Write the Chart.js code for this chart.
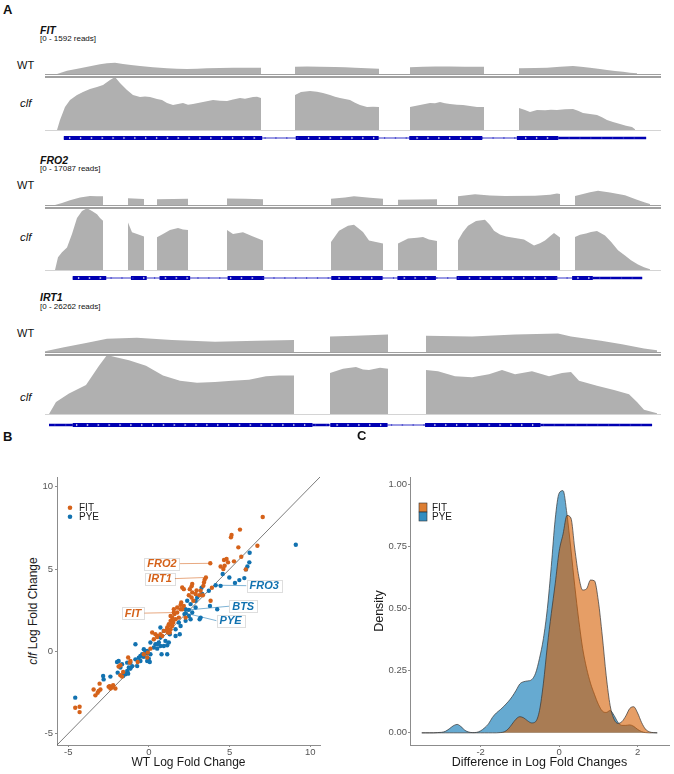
<!DOCTYPE html>
<html>
<head>
<meta charset="utf-8">
<title>FIT / PYE targets in clf</title>
<script src="https://cdn.jsdelivr.net/npm/chart.js@4.4.1/dist/chart.umd.min.js"></script>
<style>
  html, body { margin: 0; padding: 0; background: #fff; }
  #fig { position: relative; width: 674px; height: 774px; overflow: hidden;
         font-family: "Liberation Sans", Arial, Helvetica, sans-serif; color: #111; }
  #fig > * { position: absolute; }
  .lbl { white-space: nowrap; line-height: 1; }
  .mid { transform: translateY(-50%); }
  .panel { font-weight: bold; font-size: 13px; }
  .gene { font-weight: bold; font-style: italic; font-size: 10.5px; }
  .reads { font-size: 8px; }
  .wt { font-size: 11px; }
  .clf { font-style: italic; font-size: 11.5px; }
  .axt { font-size: 12px; color: #1a1a1a; transform: translate(-50%, -50%) rotate(-90deg); }
  .rule2 { height: 1px; border-top: 1px solid #a0a0a0; border-bottom: 2px solid #a0a0a0; }
  .rule1 { height: 1px; background: #d4d4d4; }
</style>
</head>
<body>
<div id="fig"></div>
<script>
// ---------- panel A: IGV coverage, [bin, reads] per covered block ----------
const WIN = 616; // bins across each IGV window

const fitRange = 1592;
const fitWT = [
  [[12,0],[22,175],[35,300],[45,410],[55,515],[62,570],[70,600],[78,530],[86,480],[95,425],[108,360],[122,300],[132,280],[142,265],[152,285],[162,300],[175,320],[188,335],[200,330],[216,335]],
  [[250,390],[262,400],[275,390],[290,370],[300,360],[310,335],[322,300],[334,280]],
  [[365,360],[378,385],[390,400],[405,395],[420,390],[430,385],[439,380]],
  [[474,300],[490,320],[502,335],[515,380],[528,425],[536,390],[545,335],[555,270],[562,210],[570,160],[578,120],[585,70],[592,35]]
];
const fitClf = [
  [[12,0],[15,300],[20,690],[25,900],[32,1050],[38,1140],[45,1230],[52,1290],[58,1350],[65,1500],[70,1592],[75,1410],[82,1200],[88,1050],[95,990],[100,1010],[105,990],[112,930],[117,900],[122,810],[128,750],[138,810],[143,760],[148,780],[158,840],[168,900],[175,880],[182,870],[188,915],[195,960],[200,940],[208,990],[212,1000],[216,960]],
  [[250,1050],[256,1140],[265,1170],[272,1150],[278,1110],[285,1050],[290,1000],[295,960],[300,930],[305,900],[310,820],[315,750],[322,690],[328,700],[334,690]],
  [[365,690],[370,720],[375,750],[380,780],[385,810],[390,800],[395,840],[400,800],[405,780],[412,760],[418,750],[425,720],[432,690],[439,690]],
  [[474,660],[480,600],[485,540],[492,600],[500,590],[506,610],[512,600],[520,620],[528,630],[533,580],[538,510],[545,480],[552,450],[557,380],[562,300],[568,240],[575,180],[581,130],[587,90],[590,20]]
];
const fitExons = [[15,216],[250,334],[365,439],[474,516]];
const fitUtr = [[516,605]];

const fro2Range = 17087;
const fro2WT = [
  [[10,0],[17,1140],[25,2560],[35,4160],[45,4900],[52,4850],[58,4790]],
  [[83,3700],[99,3300]],
  [[112,3130],[128,3250],[143,3420]],
  [[182,3590],[200,3400],[218,3130]],
  [[286,3420],[300,4200],[309,4790],[325,4000],[338,3420]],
  [[353,2850],[372,3000],[392,3130]],
  [[413,4790],[430,5930],[445,5200],[460,4960],[490,5130],[505,5700],[512,6270],[515,6000]],
  [[530,4960],[545,7000],[553,7870],[565,6840],[580,5360],[592,2850],[600,1400],[605,570]]
];
const fro2Clf = [
  [[10,0],[13,3520],[17,4880],[22,6230],[27,9950],[32,14360],[37,16260],[42,17000],[47,16260],[52,15360],[55,14360],[58,13550]],
  [[83,13100],[87,10380],[92,9950],[99,9210]],
  [[112,9030],[118,9950],[125,11030],[133,11570],[138,11190],[143,11030]],
  [[182,11030],[188,9950],[198,10380],[208,9210],[218,8130]],
  [[286,7720],[294,10840],[303,12200],[309,12470],[318,10460],[324,8130],[331,7700],[338,7320]],
  [[353,7320],[363,8670],[372,8900],[378,9080],[384,8400],[392,7990]],
  [[413,8130],[418,10500],[423,12200],[431,13470],[440,13820],[445,12400],[449,10840],[455,9800],[461,9210],[470,8800],[479,8400],[489,6780],[495,7400],[500,8130],[505,9300],[509,10190],[515,8940]],
  [[530,9080],[535,9700],[541,10030],[546,10500],[552,10730],[560,9490],[566,7800],[573,5420],[580,4000],[586,2710],[593,1500],[599,730],[605,190]]
];
const fro2Exons = [[24,58],[83,99],[112,143],[181,218],[286,338],[353,392],[413,515],[530,551]];
const fro2Utr = [[551,601]];

const irt1Range = 26262;
const irt1WT = [
  [[0,750],[19,4140],[41,7900],[62,11660],[92,12410],[127,10530],[170,9020],[212,9780],[249,10530]],
  [[285,13540],[310,14290],[343,15420]],
  [[381,14290],[427,13540],[470,15420],[513,16170],[526,13540],[556,9780],[577,6770],[599,3010],[612,1500]]
];
const irt1Clf = [
  [[4,0],[11,5330],[24,9130],[41,12940],[54,21500],[62,26260],[71,25310],[84,23980],[101,21500],[118,17130],[135,14840],[152,13890],[170,14270],[187,14840],[204,15220],[221,16750],[234,17130],[249,17130]],
  [[285,18270],[298,20170],[311,20930],[318,19800],[324,19600],[335,20550],[343,20170]],
  [[381,19600],[393,19030],[410,16750],[427,16370],[444,17700],[457,19600],[470,17700],[487,19030],[504,16750],[517,18270],[526,18650],[534,14840],[552,12560],[569,10660],[584,8750],[592,5330],[599,1900],[612,380]]
];
const irt1Exons = [[24,267],[285,343],[381,498]];
const irt1Utr = [[0,24],[267,284],[498,611]];

// ---------- panel B: log fold changes [WT, clf] ----------
const fitLfc = [
  [7.05,8.17],[5.64,7.40],[5.12,7.07],[5.08,6.93],[5.54,6.32],[6.72,6.42],[5.72,5.75],[5.27,5.47],
  [3.80,5.35],[4.65,5.55],[4.81,5.61],[4.90,5.41],[4.44,5.16],[4.69,5.20],[4.61,5.00],[6.00,4.98],
  [3.53,4.49],[3.45,4.35],[3.41,4.19],[3.37,3.98],[3.90,3.86],[2.06,3.88],[2.53,3.78],[2.68,3.58],
  [2.89,3.48],[3.20,3.68],[2.95,3.70],[3.12,3.41],[3.34,3.41],[2.64,3.95],[2.47,3.41],[2.64,3.27],
  [2.75,3.07],[3.82,3.07],[1.96,2.82],[2.00,2.97],[2.16,2.76],[1.96,2.56],[1.75,2.36],[1.54,2.56],
  [1.58,2.26],[1.44,2.05],[1.34,1.85],[1.23,1.65],[1.50,1.75],[1.65,1.95],[1.85,2.05],[1.13,1.45],
  [1.34,1.34],[1.17,1.14],[0.92,1.24],[0.20,1.14],[0.51,0.93],[0.30,0.73],[2.27,2.05],
  [2.68,4.09],[2.16,3.78],[1.75,2.66],[2.06,2.56],[1.54,2.36],[1.34,2.15],[1.44,1.85],[1.13,1.34],
  [1.29,1.14],[1.44,1.54],[0.40,1.04],[1.44,1.71],[1.23,1.59],[0.71,1.04],[0.82,0.93],[0.51,0.87],
  [-0.07,-0.08],[0.09,0.16],[-0.32,-0.18],[-0.11,-0.38],[-0.70,-0.65],[-1.15,-0.59],[-1.29,-0.38],
  [-1.19,-0.69],[-1.77,-0.85],[-1.88,-0.93],[-1.60,-1.26],[-1.77,-1.46],[-1.67,-1.54],
  [-2.29,-2.21],[-2.50,-2.15],[-2.43,-2.12],[-2.22,-2.07],[-2.39,-2.27],[-2.08,-2.26],
  [-3.01,-2.32],[-3.18,-2.52],[-3.43,-2.32],[-3.06,-1.97],[-3.12,-2.42],[-3.32,-2.68],
  [-4.57,-3.43],[-4.30,-3.37],[-4.30,-3.70]
];
const pyeLfc = [
  [9.10,6.48],[6.24,5.99],[6.22,5.41],[6.10,5.16],[6.01,4.98],[5.91,4.45],[5.60,4.33],[5.33,4.16],
  [4.98,4.49],[4.57,4.70],[4.13,4.02],[4.44,3.98],[3.71,3.68],[3.26,3.86],[3.30,3.48],[2.99,3.27],[2.89,3.07],
  [3.78,2.76],[4.23,2.56],[2.37,3.07],[2.58,2.87],[2.27,2.56],[2.20,2.26],[2.68,2.36],[2.47,2.15],
  [2.47,2.52],[2.27,2.32],[2.89,2.66],[3.20,2.05],
  [2.27,1.85],[2.58,1.95],[3.14,1.95],[1.85,1.75],[1.96,1.54],[1.65,1.34],[1.29,1.04],[1.91,1.04],
  [0.71,0.84],[0.71,1.45],[0.92,1.24],[1.65,0.93],[1.23,0.53],[0.92,0.32],[1.02,0.63],[1.13,0.37],
  [0.09,0.53],[0.40,0.43],[0.61,0.53],[0.51,0.43],[0.30,0.23],[0.51,0.16],[0.71,0.32],[-0.11,0.02],
  [-0.32,0.12],[-0.22,0.02],[-0.11,-0.14],[0.09,-0.18],[-0.42,-0.18],[-0.53,-0.29],[-0.32,-0.33],
  [-0.63,-0.39],[-0.01,-0.45],[-0.11,-0.59],[0.05,-0.65],[0.78,-0.18],[1.13,-0.18],[-0.84,0.43],
  [-0.53,-0.59],[-0.84,-0.49],[-1.15,-0.69],[-0.73,-0.90],[-1.04,-0.90],[-1.15,-1.05],[-1.35,-0.69],
  [-1.67,-0.79],[-1.98,-0.65],[-1.88,-0.59],[-1.77,-0.99],[-1.25,-0.99],[-1.35,-1.20],[-1.46,-1.40],
  [-1.29,-1.36],[-1.56,-1.34],[-1.60,-1.50],[-1.94,-1.30],[-2.39,-1.54],[-2.81,-1.71],[-2.84,-1.50],
  [-4.57,-2.82]
];
const geneLabels = [
  { name: 'FRO2', group: 'FIT', x: 3.80, y: 5.35, lx: 0.81, ly: 5.33 },
  { name: 'IRT1', group: 'FIT', x: 3.53, y: 4.49, lx: 0.68, ly: 4.42 },
  { name: 'FIT',  group: 'FIT', x: 1.75, y: 2.36, lx: -0.99, ly: 2.32 },
  { name: 'FRO3', group: 'PYE', x: 4.13, y: 4.02, lx: 7.14, ly: 3.99 },
  { name: 'BTS',  group: 'PYE', x: 2.47, y: 2.52, lx: 5.84, ly: 2.74 },
  { name: 'PYE',  group: 'PYE', x: 2.27, y: 2.32, lx: 5.06, ly: 1.86 }
];
const lfcTicks = [-5, 0, 5, 10];

// ---------- panel C: density of clf - WT differences ----------
const diffX = [-3.5,-3.4,-3.3,-3.2,-3.1,-3.0,-2.9,-2.8,-2.7,-2.6,-2.5,-2.4,-2.3,-2.2,-2.1,-2.0,-1.9,-1.8,-1.7,-1.6,
  -1.5,-1.4,-1.3,-1.2,-1.1,-1.0,-0.9,-0.8,-0.7,-0.6,-0.5,-0.4,-0.3,-0.2,-0.1,0.0,0.1,0.2,0.3,0.4,
  0.5,0.6,0.7,0.8,0.9,1.0,1.1,1.2,1.3,1.4,1.5,1.6,1.7,1.8,1.9,2.0,2.1,2.2,2.3,2.4,2.5];
const fitDens = [0,0,0,0,0,0,0,0,0,0,0,0,0,0,0,0,0,0,0,0,
  0.001,0.004,0.015,0.035,0.055,0.065,0.06,0.048,0.04,0.045,0.09,0.2,0.35,0.48,0.6,0.73,0.8,0.875,0.865,0.74,
  0.63,0.575,0.58,0.615,0.612,0.53,0.39,0.23,0.11,0.055,0.038,0.045,0.068,0.098,0.105,0.08,0.042,0.015,0.004,0.001,0];
const pyeDens = [0,0,0,0,0.001,0.002,0.006,0.016,0.028,0.034,0.025,0.01,0.003,0.001,0.002,0.008,0.02,0.036,0.062,0.08,
  0.093,0.108,0.125,0.145,0.17,0.197,0.206,0.209,0.214,0.24,0.3,0.38,0.5,0.67,0.86,0.965,0.975,0.88,0.74,0.59,
  0.455,0.34,0.26,0.2,0.155,0.115,0.088,0.082,0.09,0.07,0.042,0.03,0.03,0.032,0.026,0.014,0.005,0.001,0,0,0];
const diffTicks = [-2, 0, 2];
const densTicks = [0, 0.25, 0.5, 0.75, 1];

// ---------- styling ----------
const FONT = '"Liberation Sans", Arial, Helvetica, sans-serif';
const GREY = '#b0b0b0';
const EXON = '#0000b2';
const INTRON = '#3434c8';
const ORANGE = '#d5621a';
const BLUE = '#1272b0';
const AXIS = '#8c8c8c';
const TICK = '#555';

const fig = document.getElementById('fig');

function canvasAt(left, top, w, h) {
  const c = document.createElement('canvas');
  c.width = w; c.height = h;
  c.style.left = left + 'px'; c.style.top = top + 'px';
  c.style.width = w + 'px'; c.style.height = h + 'px';
  fig.appendChild(c);
  return c;
}
function text(html, left, top, cls) {
  const d = document.createElement('div');
  d.className = 'lbl ' + cls;
  d.innerHTML = html;
  d.style.left = left + 'px'; d.style.top = top + 'px';
  fig.appendChild(d);
  return d;
}
function rule(cls, top) {
  const d = document.createElement('div');
  d.className = cls;
  d.style.left = '45px'; d.style.top = top + 'px'; d.style.width = WIN + 'px';
  fig.appendChild(d);
}
const bare = (ymin, ymax) => ({
  responsive: false, animation: false, events: [],
  layout: { padding: 0 },
  plugins: { legend: { display: false }, tooltip: { enabled: false } },
  scales: { x: { type: 'linear', min: 0, max: WIN, display: false },
            y: { type: 'linear', min: ymin, max: ymax, display: false } }
});

function coverage(blocks, range, top, h) {
  const pts = [];
  blocks.forEach(b => {
    pts.push({ x: b[0][0], y: 0 });
    b.forEach(p => pts.push({ x: p[0], y: p[1] }));
    pts.push({ x: b[b.length - 1][0], y: 0 });
  });
  new Chart(canvasAt(45, top, WIN, h), {
    type: 'line',
    data: { datasets: [{ data: pts, fill: 'origin', backgroundColor: GREY,
                         borderWidth: 0, pointRadius: 0, tension: 0 }] },
    options: bare(0, range)
  });
}

function geneModel(exons, utr, centre) {
  const span = [Math.min(exons[0][0], utr[0][0]), Math.max(exons[exons.length - 1][1], utr[utr.length - 1][1])];
  const seg = (r, w, order) => ({ data: [{ x: r[0], y: 0 }, { x: r[1], y: 0 }], showLine: true,
    borderColor: w > 1 ? EXON : INTRON, borderWidth: w, borderCapStyle: 'butt', pointRadius: 0, order });
  const inExon = p => exons.some(e => p > e[0] + 2 && p < e[1] - 2);
  const onExon = [], onIntron = [];
  for (let p = span[0] + 6; p < span[1] - 3; p += 11) (inExon(p) ? onExon : onIntron).push({ x: p, y: 0 });
  const ds = [seg(span, 1, 4)]
    .concat(utr.map(u => seg(u, 2.5, 3)))
    .concat(exons.map(e => seg(e, 5.5, 2)));
  ds.push({ data: onExon, pointStyle: 'triangle', pointRotation: 90, pointRadius: 1.3,
            pointBackgroundColor: 'rgba(255,255,255,0.8)', pointBorderWidth: 0, order: 0 });
  ds.push({ data: onIntron, pointStyle: 'triangle', pointRotation: 90, pointRadius: 1.1,
            pointBackgroundColor: INTRON, pointBorderWidth: 0, order: 1 });
  new Chart(canvasAt(45, Math.round(centre - 6), WIN, 12), {
    type: 'scatter', data: { datasets: ds }, options: bare(-1, 1)
  });
}

function track(name, range, wt, clf, exons, utr, lay) {
  text(name, 40, lay.name, 'gene');
  text('[0 - ' + range + ' reads]', 40, lay.reads, 'reads');
  text('WT', 17, lay.wtLbl, 'wt mid');
  text('clf', 20, lay.clfLbl, 'clf mid');
  coverage(wt, range, lay.wtTop, lay.base - lay.wtTop);
  coverage(clf, range, lay.clfTop, lay.clfBase - lay.clfTop);
  rule('rule2', lay.base);
  rule('rule1', lay.clfBase);
  geneModel(exons, utr, lay.gene);
}

text('A', 3, 3, 'panel');
track('FIT', fitRange, fitWT, fitClf, fitExons, fitUtr,
  { name: 25, reads: 34.5, wtTop: 44, base: 74, clfTop: 77, clfBase: 130, gene: 138, wtLbl: 65, clfLbl: 104 });
track('FRO2', fro2Range, fro2WT, fro2Clf, fro2Exons, fro2Utr,
  { name: 154.5, reads: 164.5, wtTop: 174, base: 205, clfTop: 208, clfBase: 270, gene: 277.5, wtLbl: 184.5, clfLbl: 238 });
track('IRT1', irt1Range, irt1WT, irt1Clf, irt1Exons, irt1Utr,
  { name: 291.5, reads: 302.5, wtTop: 322, base: 352, clfTop: 355, clfBase: 414, gene: 424.5, wtLbl: 333, clfLbl: 398 });

// ---------- shared bits for B and C ----------
const keyLegend = {
  id: 'keyLegend',
  afterDraw(chart, args, o) {
    const ctx = chart.ctx;
    ctx.save();
    ctx.font = '10px ' + FONT;
    ctx.textBaseline = 'middle';
    chart.data.datasets.filter(d => d.inLegend).forEach((d, i) => {
      const cy = o.y + i * o.step;
      ctx.fillStyle = d.keyColor;
      if (o.shape === 'dot') {
        ctx.beginPath(); ctx.arc(o.x, cy, 2.3, 0, Math.PI * 2); ctx.fill();
      } else {
        ctx.fillRect(o.x - 4, cy - 4.5, 8, 9);
        ctx.strokeStyle = '#333'; ctx.lineWidth = 0.6;
        ctx.strokeRect(o.x - 4, cy - 4.5, 8, 9);
      }
      ctx.fillStyle = '#1a1a1a';
      ctx.fillText(d.label, o.textX, cy + 0.5);
    });
    ctx.restore();
  }
};

function axis(min, max, ticks, fit, pad, extra) {
  return Object.assign({
    type: 'linear', min, max,
    afterBuildTicks: s => { s.ticks = ticks.map(v => ({ value: v })); },
    afterFit: fit,
    grid: { display: true, drawOnChartArea: false, drawTicks: true, tickLength: 2, color: AXIS },
    border: { display: true, color: AXIS, width: 1 },
    ticks: { color: TICK, font: { family: FONT, size: 9.5 }, padding: pad, maxRotation: 0, autoSkip: false }
  }, extra || {});
}

// ---------- panel B ----------
text('B', 3, 429.5, 'panel');
text('<i>clf</i> Log Fold Change', 33, 611, 'axt');

const lfcMin = -5.7, lfcMax = 10.6;
const repelLabels = {
  id: 'repelLabels',
  afterDatasetsDraw(chart) {
    const { ctx, scales: { x, y } } = chart;
    ctx.save();
    ctx.font = 'italic bold 11px ' + FONT;
    ctx.textAlign = 'center';
    ctx.textBaseline = 'middle';
    geneLabels.forEach(l => {
      const col = l.group === 'FIT' ? ORANGE : BLUE;
      const px = x.getPixelForValue(l.x), py = y.getPixelForValue(l.y);
      const lx = x.getPixelForValue(l.lx), ly = y.getPixelForValue(l.ly);
      const w = ctx.measureText(l.name).width + 6, h = 12;
      const edge = px > lx ? lx + w / 2 : lx - w / 2;
      ctx.globalAlpha = 0.55;
      ctx.strokeStyle = col; ctx.lineWidth = 1;
      ctx.beginPath(); ctx.moveTo(edge, ly); ctx.lineTo(px, py); ctx.stroke();
      ctx.globalAlpha = 1;
      ctx.fillStyle = 'rgba(255,255,255,0.9)';
      ctx.fillRect(lx - w / 2, ly - h / 2, w, h);
      ctx.strokeStyle = 'rgba(0,0,0,0.13)';
      ctx.strokeRect(Math.round(lx - w / 2) + 0.5, Math.round(ly - h / 2) + 0.5, Math.round(w), h);
      ctx.fillStyle = col;
      ctx.fillText(l.name, lx, ly + 0.5);
    });
    ctx.restore();
  }
};

new Chart(canvasAt(0, 465, 330, 309), {
  type: 'scatter',
  data: {
    datasets: [
      { label: 'FIT', inLegend: true, keyColor: ORANGE, data: fitLfc.map(p => ({ x: p[0], y: p[1] })),
        backgroundColor: ORANGE, borderWidth: 0, pointRadius: 2.2, order: 1 },
      { label: 'PYE', inLegend: true, keyColor: BLUE, data: pyeLfc.map(p => ({ x: p[0], y: p[1] })),
        backgroundColor: BLUE, borderWidth: 0, pointRadius: 2.2, order: 2 },
      { label: 'y = x', data: [{ x: lfcMin, y: lfcMin }, { x: lfcMax, y: lfcMax }], showLine: true,
        borderColor: '#5a5a5a', borderWidth: 0.8, pointRadius: 0, order: 3 }
    ]
  },
  options: {
    responsive: false, animation: false, events: [],
    layout: { padding: { top: 12, right: 10, bottom: 0, left: 0 } },
    plugins: { legend: { display: false }, tooltip: { enabled: false },
               keyLegend: { shape: 'dot', x: 70, y: 42.7, step: 9, textX: 79 } },
    scales: {
      x: axis(lfcMin, lfcMax, lfcTicks, s => { s.height = 29; }, 0, {
        title: { display: true, text: 'WT Log Fold Change', color: '#1a1a1a',
                 font: { family: FONT, size: 12 }, padding: { top: 0, bottom: 4 } } }),
      y: axis(lfcMin, lfcMax, lfcTicks, s => { s.width = 57; }, 2)
    }
  },
  plugins: [repelLabels, keyLegend]
});

// ---------- panel C ----------
text('C', 357, 428.5, 'panel');

const densAxis = axis(-0.049, 1.03, densTicks, s => { s.width = 70; }, 1, {
  title: { display: true, text: 'Density', color: '#1a1a1a',
           font: { family: FONT, size: 12.5 }, padding: { top: 32, bottom: 0 } } });
densAxis.ticks.callback = v => v.toFixed(2);

new Chart(canvasAt(340, 465, 334, 309), {
  type: 'line',
  data: {
    datasets: [
      { label: 'FIT', inLegend: true, keyColor: 'rgba(213,94,0,0.8)',
        data: diffX.map((x, i) => ({ x, y: fitDens[i] })), fill: 'origin',
        backgroundColor: 'rgba(213,94,0,0.6)', borderColor: '#333', borderWidth: 0.7,
        pointRadius: 0, cubicInterpolationMode: 'monotone', order: 1 },
      { label: 'PYE', inLegend: true, keyColor: 'rgba(0,114,178,0.8)',
        data: diffX.map((x, i) => ({ x, y: pyeDens[i] })), fill: 'origin',
        backgroundColor: 'rgba(0,114,178,0.6)', borderColor: '#333', borderWidth: 0.7,
        pointRadius: 0, cubicInterpolationMode: 'monotone', order: 2 }
    ]
  },
  options: {
    responsive: false, animation: false, events: [],
    layout: { padding: { top: 12, right: 5, bottom: 0, left: 0 } },
    plugins: { legend: { display: false }, tooltip: { enabled: false },
               keyLegend: { shape: 'box', x: 83, y: 42.5, step: 9, textX: 92 } },
    scales: {
      x: axis(-3.8, 2.8, diffTicks, s => { s.height = 29; }, 0, {
        title: { display: true, text: 'Difference in Log Fold Changes', color: '#1a1a1a',
                 font: { family: FONT, size: 12.5 }, padding: { top: 0, bottom: 4 } } }),
      y: densAxis
    }
  },
  plugins: [keyLegend]
});
</script>
</body>
</html>
